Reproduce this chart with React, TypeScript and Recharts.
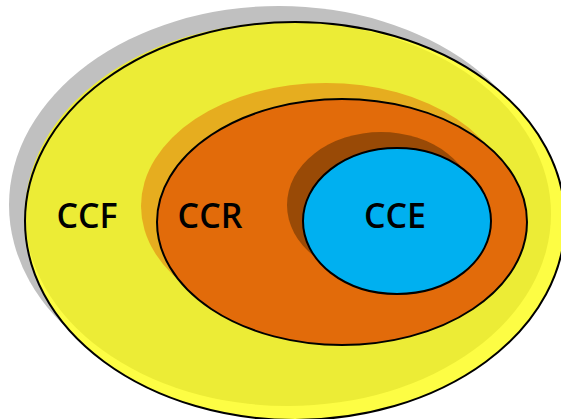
import React from 'react';
import {
  ScatterChart,
  Scatter,
  XAxis,
  YAxis,
  ReferenceArea,
} from 'recharts';

// nested sets, in pixel-like units of the drawing (y grows downwards)
const setNames = ['CCF', 'CCR', 'CCE'];
const centerX = [295, 342, 397];
const centerY = [221, 222, 221];
const radiusX = [270, 185, 94];
const radiusY = [199, 123, 73];
const shadowShift = [16, 16, 16];

const labelX = [87, 210, 395];
const labelY = [228, 228, 228];

const fills = ['#fdfd44', '#e26b0a', '#00b0f0'];
const shadows = ['#c0c0c0', '#e6ad1f', '#994a06'];
const innerGlow = '#ecec36';

const labels = setNames.map((name, i) => ({ name, x: labelX[i], y: labelY[i] }));

const Ellipse = (fill: string, stroke?: string) => (props: any) => {
  const { x, y, width, height } = props;
  return (
    <ellipse
      cx={x + width / 2}
      cy={y + height / 2}
      rx={Math.abs(width) / 2}
      ry={Math.abs(height) / 2}
      fill={fill}
      stroke={stroke || 'none'}
      strokeWidth={stroke ? 2 : 0}
    />
  );
};

const LabelShape = (props: any) => (
  <text
    x={props.cx}
    y={props.cy}
    textAnchor="middle"
    fontFamily="'Open Sans', sans-serif"
    fontWeight={600}
    fontSize={34}
    fill="#000"
  >
    {props.payload.name}
  </text>
);

const area = (i: number, dx: number, dy: number, shrinkX: number, shrinkY: number) => ({
  x1: centerX[i] + dx - radiusX[i] + shrinkX,
  x2: centerX[i] + dx + radiusX[i] - shrinkX,
  y1: centerY[i] + dy - radiusY[i] + shrinkY,
  y2: centerY[i] + dy + radiusY[i] - shrinkY,
});

export default function App() {
  const layers: React.ReactNode[] = [];
  setNames.forEach((name, i) => {
    const s = shadowShift[i];
    layers.push(
      <ReferenceArea key={`${name}-shadow`} {...area(i, -s, -s, 0, 0)} ifOverflow="visible" shape={Ellipse(shadows[i])} />
    );
    if (i === 0) {
      layers.push(
        <ReferenceArea key={`${name}-base`} {...area(i, 0, 0, 0, 0)} ifOverflow="visible" shape={Ellipse(fills[i])} />,
        <ReferenceArea key={`${name}-glow`} {...area(i, -7, -7, 7, 7)} ifOverflow="visible" shape={Ellipse(innerGlow)} />,
        <ReferenceArea key={`${name}-line`} {...area(i, 0, 0, 0, 0)} ifOverflow="visible" shape={Ellipse('none', '#000')} />
      );
    } else {
      layers.push(
        <ReferenceArea key={`${name}-fill`} {...area(i, 0, 0, 0, 0)} ifOverflow="visible" shape={Ellipse(fills[i], '#000')} />
      );
    }
  });

  return (
    <div style={{ position: 'absolute', left: 0, top: 0, background: '#fff' }}>
      <ScatterChart width={561} height={419} margin={{ top: 0, right: 0, bottom: 0, left: 0 }}>
        <XAxis type="number" dataKey="x" domain={[0, 561]} allowDataOverflow hide />
        <YAxis type="number" dataKey="y" domain={[0, 419]} allowDataOverflow reversed hide />
        {layers}
        <Scatter data={labels} shape={LabelShape} isAnimationActive={false} />
      </ScatterChart>
    </div>
  );
}
